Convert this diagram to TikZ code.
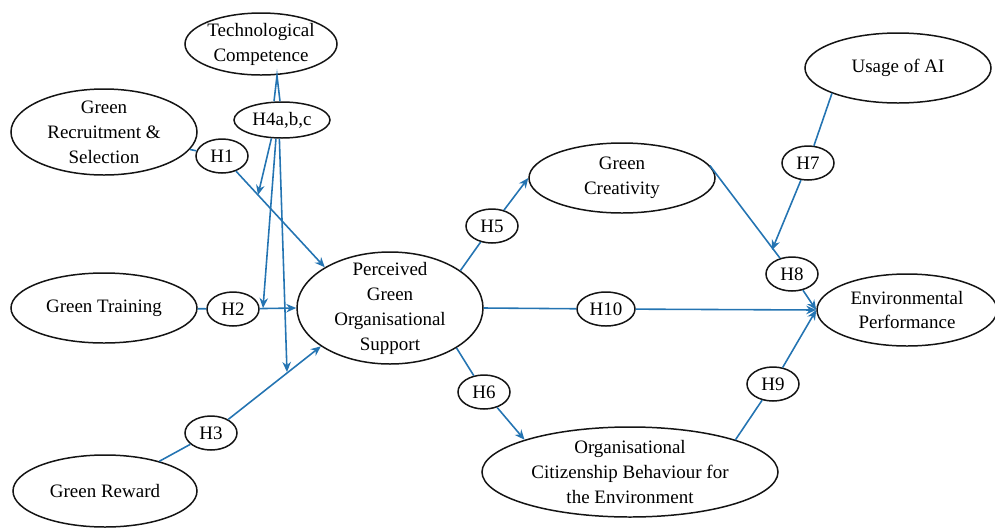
\documentclass[tikz,border=0pt]{standalone}
\usepackage{fontspec}
\setmainfont{Liberation Serif}
\usepackage{tikz}
\usetikzlibrary{shapes.geometric, arrows.meta, positioning, calc}
\definecolor{linkblue}{RGB}{36,116,178}
\definecolor{inkdark}{RGB}{20,20,20}
\tikzset{
  construct/.style={ellipse, draw=inkdark, fill=white, align=center,
    inner xsep=0pt, inner ysep=-1.5mm, line width=0.85pt,
    font=\fontsize{10.8}{14.2}\selectfont},
  hyp/.style={ellipse, draw=inkdark, fill=white, align=center,
    inner sep=0pt, minimum width=10.4mm, minimum height=6.8mm,
    line width=0.85pt, font=\fontsize{10.8}{14.2}\selectfont},
  arrow/.style={-{Stealth[length=2mm, width=1.7mm]}, line width=0.9pt, color=linkblue},
  link/.style={line width=0.9pt, color=linkblue}
}

\begin{document}
\begin{tikzpicture}[x=0.2mm, y=-0.2mm]
  \useasboundingbox (0,0) rectangle (995,527);

  % Constructs
  \node[construct, minimum width=30.4mm, minimum height=12.4mm] (tc) at (261,44) {Technological\\Competence};
  \node[construct, minimum width=37.2mm, minimum height=17.2mm] (grs) at (104,132) {Green\\Recruitment \&\\Selection};
  \node[construct, minimum width=37.2mm, minimum height=14mm] (gt) at (104,308) {Green Training};
  \node[construct, minimum width=36.8mm, minimum height=14.4mm] (gr) at (105,491) {Green Reward};
  \node[construct, minimum width=37.2mm, minimum height=22.4mm] (pgos) at (390,308) {Perceived\\Green\\Organisational\\Support};
  \node[construct, minimum width=37.2mm, minimum height=14mm] (gc) at (622,178) {Green\\Creativity};
  \node[construct, minimum width=59.2mm, minimum height=18mm] (ocbe) at (630,472) {Organisational\\Citizenship Behaviour for\\the Environment};
  \node[construct, minimum width=37.2mm, minimum height=14mm] (usage) at (898,68) {Usage of AI};
  \node[construct, minimum width=36mm, minimum height=14.4mm] (env) at (907,310) {Environmental\\Performance};

  % Hypotheses
  \node[hyp, minimum width=19.2mm, minimum height=7.2mm] (h4) at (282,120) {H4a,b,c};
  \node[hyp] (h1) at (222,156) {H1};
  \node[hyp] (h2) at (233,309) {H2};
  \node[hyp] (h3) at (211,433) {H3};
  \node[hyp] (h5) at (492,226) {H5};
  \node[hyp] (h6) at (484,392) {H6};
  \node[hyp, minimum width=11.6mm] (h10) at (606,309) {H10};
  \node[hyp] (h7) at (808,163) {H7};
  \node[hyp] (h8) at (792,274) {H8};
  \node[hyp] (h9) at (773,384) {H9};

  % Points where the moderating arrows land
  \coordinate (m1) at (258,195);
  \coordinate (m2) at (263,308);
  \coordinate (m3) at (287,372);
  \coordinate (m7) at (772,250);

  % Direct paths
  \draw[link] (grs) -- (h1);
  \draw[arrow] (h1) -- (pgos.148);
  \draw[link] (gt) -- (h2);
  \draw[arrow] (h2) -- (pgos.west);
  \draw[link] (gr) -- (h3);
  \draw[arrow] (h3) -- (pgos.209);

  \draw[link] (pgos.28) -- (h5);
  \draw[arrow] (h5) -- (gc.west);
  \draw[link] (pgos.-31) -- (h6);
  \draw[arrow] (h6) -- (ocbe.163);
  \draw[link] (pgos.east) -- (h10);
  \draw[arrow] (h10) -- (env.west);

  \draw[link] (gc.8) -- (h8);
  \draw[arrow] (h8) -- (env.west);
  \draw[link] (ocbe.17) -- (h9);
  \draw[arrow] (h9) -- (env.west);

  % Moderation
  \draw[link] (h4.north -| 274,0) -- (tc.south -| 277,0) -- (h4.north -| 280,0);
  \draw[arrow] (h4.240) -- (m1);
  \draw[arrow] (h4.252) -- (m2);
  \draw[arrow] (h4.262) -- (m3);
  \draw[link] (usage.201) -- (h7);
  \draw[arrow] (h7) -- (m7);
\end{tikzpicture}
\end{document}
